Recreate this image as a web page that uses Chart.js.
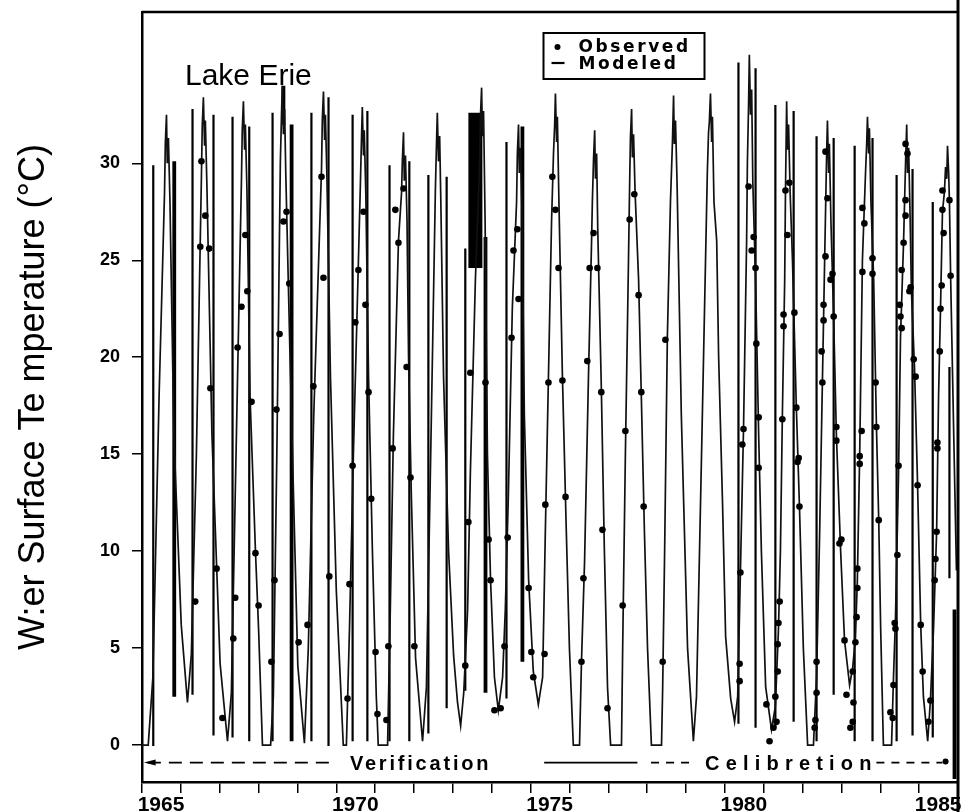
<!DOCTYPE html>
<html>
<head>
<meta charset="utf-8">
<title>Lake Erie</title>
<script src="https://cdn.jsdelivr.net/npm/chart.js@4.4.1/dist/chart.umd.min.js"></script>
<style>
  html, body { margin: 0; padding: 0; background: #fff; }
  canvas { display: block; }
</style>
</head>
<body>
<canvas id="myChart" width="972" height="812"></canvas>
<script>
// modeled surface temperature (decimal year, deg C)
const modelYear = [
  1965.00, 1965.16, 1965.28, 1965.44, 1965.58, 1965.60, 1965.63, 1965.65, 1965.68, 1965.72, 1965.82, 1966.01,
  1966.17, 1966.27, 1966.40, 1966.53, 1966.55, 1966.58, 1966.61, 1966.63, 1966.67, 1966.80, 1967.01,
  1967.20, 1967.30, 1967.42, 1967.56, 1967.58, 1967.61, 1967.64, 1967.66, 1967.70, 1967.78, 1967.92, 1968.00, 1968.10,
  1968.31, 1968.38, 1968.47, 1968.56, 1968.59, 1968.61, 1968.64, 1968.67, 1968.70, 1968.81, 1969.01,
  1969.18, 1969.28, 1969.42, 1969.62, 1969.64, 1969.67, 1969.70, 1969.72, 1969.76, 1969.85, 1970.00, 1970.18,
  1970.26, 1970.34, 1970.44, 1970.57, 1970.62, 1970.65, 1970.67, 1970.70, 1970.72, 1970.76, 1970.83, 1970.93, 1971.03, 1971.08,
  1971.32, 1971.39, 1971.47, 1971.60, 1971.68, 1971.70, 1971.73, 1971.75, 1971.78, 1971.82, 1971.86, 1971.93, 1972.04,
  1972.22, 1972.32, 1972.43, 1972.55, 1972.58, 1972.60, 1972.63, 1972.66, 1972.69, 1972.76, 1972.89, 1973.02, 1973.12,
  1973.20, 1973.28, 1973.38, 1973.45, 1973.58, 1973.69, 1973.71, 1973.74, 1973.76, 1973.79, 1973.83, 1973.89, 1973.97, 1974.07,
  1974.17, 1974.28, 1974.35, 1974.43, 1974.53, 1974.64, 1974.66, 1974.69, 1974.71, 1974.74, 1974.78, 1974.84, 1974.95, 1975.07,
  1975.20, 1975.31, 1975.38, 1975.46, 1975.54, 1975.59, 1975.62, 1975.64, 1975.67, 1975.69, 1975.73, 1975.82, 1975.92, 1976.00, 1976.10,
  1976.26, 1976.31, 1976.39, 1976.49, 1976.57, 1976.59, 1976.62, 1976.65, 1976.67, 1976.70, 1976.73, 1976.82, 1976.90, 1976.98, 1977.06,
  1977.34, 1977.37, 1977.44, 1977.52, 1977.55, 1977.57, 1977.60, 1977.62, 1977.65, 1977.69, 1977.78, 1977.85, 1977.93, 1978.01, 1978.11,
  1978.37, 1978.40, 1978.45, 1978.52, 1978.60, 1978.65, 1978.68, 1978.70, 1978.73, 1978.77, 1978.88, 1979.04,
  1979.19, 1979.27, 1979.40, 1979.55, 1979.58, 1979.60, 1979.63, 1979.66, 1979.68, 1979.72, 1979.79, 1979.84, 1979.94, 1980.02, 1980.15,
  1980.25, 1980.33, 1980.40, 1980.48, 1980.56, 1980.58, 1980.61, 1980.63, 1980.66, 1980.69, 1980.72, 1980.79, 1980.87, 1980.94, 1981.05,
  1981.20, 1981.30, 1981.38, 1981.43, 1981.48, 1981.54, 1981.56, 1981.59, 1981.61, 1981.64, 1981.68, 1981.74, 1981.84, 1981.92, 1982.02, 1982.13,
  1982.28, 1982.36, 1982.44, 1982.51, 1982.57, 1982.62, 1982.64, 1982.67, 1982.69, 1982.73, 1982.80, 1982.87, 1982.98, 1983.08,
  1983.21, 1983.29, 1983.36, 1983.41, 1983.47, 1983.54, 1983.62, 1983.65, 1983.67, 1983.70, 1983.72, 1983.76, 1983.83, 1983.90, 1983.96, 1984.01, 1984.08,
  1984.29, 1984.34, 1984.39, 1984.47, 1984.52, 1984.60, 1984.65, 1984.68, 1984.70, 1984.73, 1984.77, 1984.80, 1984.88, 1984.96, 1985.04, 1985.11,
  1985.22, 1985.29, 1985.37, 1985.45, 1985.50, 1985.55, 1985.60, 1985.65, 1985.68, 1985.71, 1985.73, 1985.76, 1985.78, 1985.81, 1985.89, 1985.96
];
const modelTemp = [
  0, 0, 3.5, 18, 28.5, 31, 32.5, 30, 31.3, 28, 16, 6.2,
  2.2, 4.7, 15, 29.4, 31.9, 33.4, 30.9, 32.2, 28.9, 16, 4.2,
  0.2, 2.7, 15, 29.2, 31.7, 33.2, 30.7, 32.0, 28.7, 18, 10, 6, 0,
  0, 2.5, 15, 30, 32.5, 34, 31.5, 32.8, 29.5, 20, 4.1,
  0.1, 5, 17, 29.7, 32.2, 33.7, 31.2, 32.5, 29.2, 19, 8, 0,
  0, 6, 15, 25, 28.9, 31.4, 32.9, 30.4, 31.7, 28.4, 19, 10, 2.5, 0,
  0, 7, 16, 26, 28.5, 30.1, 31.6, 29.1, 30.4, 27.1, 20, 13, 4.5,
  0.2, 3, 15, 28.6, 31.1, 32.6, 30.1, 31.4, 28.1, 19, 10, 4.6, 2.2,
  1.0, 2.7, 7, 14, 24, 30, 32.4, 33.9, 31.4, 32.7, 27, 15, 8.5, 3.5,
  1.8, 3.5, 7, 13, 22.5, 28, 30.5, 32.0, 29.5, 30.8, 27.5, 17, 8.5, 3.8,
  2.1, 3.5, 11, 19, 27, 30.5, 32, 33.6, 31.1, 32.4, 28, 19, 11, 5, 0,
  0, 4.3, 9.5, 19, 26, 28, 30.2, 31.7, 29.2, 30.5, 26.5, 18.5, 10, 3, 0,
  0, 5, 15, 25, 29, 31.3, 32.8, 30.3, 31.5, 28.5, 24, 18, 11, 5, 0,
  0, 3, 10, 21, 28, 31, 33.5, 31, 32.2, 29, 17, 5,
  0.2, 2.5, 15, 29.6, 31.6, 32.1, 33.6, 31.1, 32.4, 28, 26, 20, 12.5, 5.6, 2.4,
  1.2, 2.5, 8.9, 16.3, 26, 30, 33, 35.6, 32.5, 33.8, 29, 24, 16, 10, 3,
  0.8, 2, 6, 10, 17, 24, 28.5, 33.2, 30.7, 32, 28.5, 25, 17.4, 12.3, 5, 0,
  0, 3.5, 11, 18.7, 25.2, 30.6, 32.2, 29.5, 31, 27, 22, 16, 10, 5.4,
  3.1, 4, 5.5, 8.5, 15, 25, 29.5, 31, 32.4, 30.5, 31.8, 28, 24, 16.5, 11.6, 6, 0,
  0, 3.5, 6.5, 14, 21, 26, 30, 32.0, 29.5, 30.8, 27, 23.5, 19.5, 13.4, 6.2, 2.5,
  0.2, 2.3, 6, 11, 18, 22.5, 27.5, 28.5, 29.8, 29.2, 30.9, 29.5, 28, 24.2, 16, 9
];

// observed surface temperature
const obsYear = [
  1966.37, 1966.50, 1966.53, 1966.63, 1966.73, 1966.76, 1966.92, 1967.07,
  1967.35, 1967.40, 1967.46, 1967.56, 1967.66, 1967.71, 1967.82, 1967.92, 1968.00,
  1968.33, 1968.41, 1968.46, 1968.54, 1968.64, 1968.72, 1968.79, 1969.03,
  1969.26, 1969.41, 1969.62, 1969.67, 1969.82,
  1970.29, 1970.34, 1970.42, 1970.49, 1970.57, 1970.70, 1970.75, 1970.83, 1970.90, 1971.01, 1971.06,
  1971.29, 1971.34, 1971.45, 1971.52, 1971.60, 1971.73, 1971.81, 1971.91, 1972.01,
  1973.32, 1973.40, 1973.45, 1973.84, 1973.92, 1973.97, 1974.07, 1974.23,
  1974.33, 1974.41, 1974.51, 1974.56, 1974.66, 1974.69, 1974.95, 1975.02, 1975.07,
  1975.36, 1975.38, 1975.46, 1975.56, 1975.64, 1975.72, 1975.82, 1975.90,
  1976.31, 1976.36, 1976.46, 1976.52, 1976.62, 1976.72, 1976.82, 1976.85, 1976.98,
  1977.37, 1977.44, 1977.55, 1977.67, 1977.78, 1977.85, 1977.91,
  1978.40, 1978.47,
  1980.38, 1980.38, 1980.40, 1980.45, 1980.48, 1980.61, 1980.69, 1980.74, 1980.79, 1980.81, 1980.87, 1980.87, 1981.07, 1981.15,
  1981.25, 1981.33, 1981.30, 1981.36, 1981.36, 1981.38, 1981.41, 1981.48, 1981.51, 1981.51, 1981.56, 1981.61, 1981.66,
  1981.79, 1981.84, 1981.87, 1981.90, 1981.92,
  1982.31, 1982.33, 1982.36, 1982.36, 1982.49, 1982.51, 1982.54, 1982.54, 1982.59, 1982.59, 1982.64, 1982.72, 1982.77, 1982.80,
  1982.87, 1982.87, 1982.95, 1983.00, 1983.08,
  1983.13, 1983.23, 1983.29, 1983.31, 1983.29, 1983.36, 1983.39, 1983.41, 1983.41, 1983.47, 1983.47, 1983.52, 1983.54, 1983.54, 1983.59,
  1983.80, 1983.80, 1983.88, 1983.90, 1983.96,
  1984.26, 1984.32, 1984.34, 1984.37, 1984.39, 1984.44, 1984.47, 1984.50, 1984.52, 1984.55, 1984.55, 1984.60, 1984.65, 1984.65, 1984.65, 1984.70,
  1984.75, 1984.78, 1984.86, 1984.91, 1984.96, 1985.04, 1985.09,
  1985.24, 1985.29, 1985.40, 1985.42, 1985.45, 1985.47, 1985.47, 1985.53, 1985.55, 1985.58, 1985.60, 1985.60, 1985.63, 1985.78, 1985.81
];
const obsTemp = [
  7.4, 25.7, 30.1, 27.3, 25.6, 18.4, 9.1, 1.4,
  5.5, 7.6, 20.5, 22.6, 26.3, 23.4, 17.7, 9.9, 7.2,
  4.3, 8.5, 17.3, 21.2, 27.0, 27.5, 23.8, 5.3,
  6.2, 18.5, 29.3, 24.1, 8.7,
  2.4, 8.3, 14.4, 21.8, 24.5, 27.5, 22.7, 18.2, 12.7, 4.8, 1.6,
  1.3, 5.1, 15.3, 27.6, 25.9, 28.7, 19.5, 13.8, 5.1,
  4.1, 11.5, 19.2, 18.7, 10.6, 8.5, 1.8, 1.9,
  5.1, 10.7, 21.0, 25.5, 26.6, 23.0, 8.1, 4.8, 3.5,
  4.7, 12.4, 18.7, 29.3, 27.6, 24.6, 18.8, 12.8,
  4.3, 8.6, 19.8, 24.6, 26.4, 24.6, 18.2, 11.1, 1.9,
  7.2, 16.2, 27.1, 28.4, 23.2, 18.2, 12.3,
  4.3, 20.9,
  4.2, 3.3, 8.9, 15.5, 16.3, 28.8, 25.5, 26.2, 24.6, 20.7, 16.9, 14.3, 2.1, 0.2,
  0.9, 1.2, 2.5, 3.8, 5.2, 6.3, 7.4, 16.8, 22.2, 21.6, 28.6, 26.3, 29.0,
  22.3, 17.4, 14.6, 14.8, 12.3,
  0.9, 1.3, 2.7, 4.3, 20.3, 18.7, 22.7, 21.9, 30.6, 25.2, 28.2, 24.0, 24.3, 22.1,
  16.4, 15.7, 10.4, 10.6, 5.4,
  2.6, 0.9, 1.2, 2.2, 3.8, 5.3, 6.6, 8.1, 9.1, 14.9, 14.5, 16.2, 27.7, 24.4, 26.9,
  25.1, 24.3, 18.7, 16.4, 11.6,
  1.7, 1.4, 3.1, 6.3, 6.0, 9.8, 14.4, 22.7, 22.1, 21.5, 24.5, 25.9, 27.3, 28.1, 31.0, 30.5,
  23.4, 23.6, 19.9, 19.0, 13.4, 6.2, 3.8,
  1.2, 2.3, 8.5, 9.6, 11.0, 15.6, 15.3, 20.3, 22.5, 23.7, 27.6, 28.6, 26.4, 28.1, 24.2
];

// vertical streaks through the plot (year, top, bottom in deg C)
const streakYear = [
  1965.29, 1966.30, 1966.84, 1967.33, 1967.76, 1968.36, 1969.36, 1969.80, 1970.42, 1970.80, 1971.37, 1971.88,
  1972.37, 1972.84, 1973.32, 1974.38, 1980.35, 1980.79, 1981.30, 1981.77, 1982.36, 1982.80, 1983.34, 1983.80,
  1984.42, 1984.83, 1985.35, 1985.78
];
const streakTop = [
  29.9, 32.8, 32.5, 32.4, 31.9, 32.6, 32.6, 33.4, 32.5, 32.7, 29.9, 30.1,
  29.4, 29.3, 25.6, 31.1, 35.2, 34.9, 33.0, 32.7, 31.4, 31.3, 30.9, 31.3,
  29.4, 29.7, 28.0, 19.5
];
const streakBottom = [
  -0.05, 2.6, 0.5, 0.4, 0.2, 0.2, 0.2, -0.05, 0.2, 0.2, 0.2, 0.2,
  0.6, 1.9, 2.8, 2.4, 1.1, 0.9, 0.9, 1.2, 0.2, 2.6, 0.2, 0.2,
  0.2, 0.5, 0.4, 8.6
];
const heavyStreakYear = [1965.83, 1968.64, 1968.85, 1973.84, 1974.79, 1985.91];
const heavyStreakTop = [30.1, 34.0, 32.0, 26.2, 31.9, 7.0];
const heavyStreakBottom = [2.5, 32.0, 0.2, 2.7, 4.3, -1.75];
const blockYear = [1973.58];
const blockTop = [32.6];
const blockBottom = [24.6];

const yearTicks = [];
for (let yr = 1965; yr <= 1985; yr++) yearTicks.push(yr);
const tempTicks = [0, 5, 10, 15, 20, 25, 30];

const FONT = '"Liberation Sans", Arial, Helvetica, sans-serif';

function toPoints(xs, ys) {
  return xs.map((x, i) => ({x: x, y: ys[i]}));
}

function segments(xs, tops, bottoms) {
  const pts = [];
  xs.forEach((x, i) => {
    pts.push({x: x, y: tops[i]}, {x: x, y: bottoms[i]}, {x: x, y: null});
  });
  return pts;
}

function streakSet(data, width) {
  return {
    type: 'line',
    data: data,
    borderColor: '#000',
    borderWidth: width,
    borderCapStyle: 'butt',
    pointRadius: 0,
    spanGaps: false,
    order: 3
  };
}

// frame, title, legend box and the verification / calibration bar
const paperNotes = {
  id: 'paperNotes',
  afterDatasetsDraw(chart) {
    const {ctx, chartArea: a, scales} = chart;
    const px = v => scales.x.getPixelForValue(v);
    const barY = scales.y.getPixelForValue(-0.9);

    ctx.save();
    ctx.strokeStyle = '#000';
    ctx.fillStyle = '#000';

    ctx.lineWidth = 2.5;
    ctx.beginPath();
    ctx.moveTo(a.left, a.top);
    ctx.lineTo(a.right, a.top);
    ctx.stroke();
    ctx.lineWidth = 3;
    ctx.beginPath();
    ctx.moveTo(a.right, 0);
    ctx.lineTo(a.right, chart.height);
    ctx.stroke();

    ctx.font = '30px ' + FONT;
    ctx.textBaseline = 'alphabetic';
    ctx.fillText('Lake Erie', a.left + 43, a.top + 73);

    // legend
    const bx = a.left + 401.5, by = a.top + 21;
    ctx.lineWidth = 2;
    ctx.strokeRect(bx, by, 161, 46);
    ctx.beginPath();
    ctx.arc(bx + 14, by + 14, 3, 0, Math.PI * 2);
    ctx.fill();
    ctx.lineWidth = 2.2;
    ctx.beginPath();
    ctx.moveTo(bx + 8, by + 30);
    ctx.lineTo(bx + 21, by + 30);
    ctx.stroke();
    ctx.font = 'bold 17px "DejaVu Sans", ' + FONT;
    ctx.letterSpacing = '2.6px';
    ctx.fillText('Observed', bx + 35, by + 19);
    ctx.fillText('Modeled', bx + 35, by + 36);

    // period bar below zero
    ctx.lineWidth = 1.6;
    ctx.setLineDash([13, 8]);
    ctx.beginPath();
    ctx.moveTo(px(1965.15), barY);
    ctx.lineTo(px(1969.9), barY);
    ctx.stroke();
    ctx.setLineDash([]);
    ctx.beginPath();
    ctx.moveTo(px(1965.05), barY);
    ctx.lineTo(px(1965.35), barY - 3);
    ctx.lineTo(px(1965.35), barY + 3);
    ctx.closePath();
    ctx.fill();
    ctx.beginPath();
    ctx.moveTo(px(1975.35), barY);
    ctx.lineTo(px(1977.75), barY);
    ctx.stroke();
    ctx.setLineDash([8, 7]);
    ctx.beginPath();
    ctx.moveTo(px(1978.1), barY);
    ctx.lineTo(px(1979.2), barY);
    ctx.moveTo(px(1983.9), barY);
    ctx.lineTo(px(1985.6), barY);
    ctx.stroke();
    ctx.setLineDash([]);
    ctx.beginPath();
    ctx.arc(px(1985.68), barY - 1, 3, 0, Math.PI * 2);
    ctx.fill();

    ctx.font = 'bold 20px ' + FONT;
    ctx.textBaseline = 'middle';
    ctx.letterSpacing = '2.8px';
    ctx.fillText('Verification', px(1970.35), barY + 2);
    ctx.letterSpacing = '6.2px';
    ctx.fillText('Celibretion', px(1981.6) - 82, barY + 2);
    ctx.restore();
  }
};

const data = {
  datasets: [
    {
      type: 'line',
      label: 'Modeled',
      data: toPoints(modelYear, modelTemp),
      borderColor: '#111',
      borderWidth: 1.7,
      pointRadius: 0,
      tension: 0,
      order: 2
    },
    {
      type: 'scatter',
      label: 'Observed',
      data: toPoints(obsYear, obsTemp),
      pointRadius: 3.3,
      pointBackgroundColor: '#000',
      pointBorderWidth: 0,
      order: 1
    },
    streakSet(segments(streakYear, streakTop, streakBottom), 2.2),
    streakSet(segments(heavyStreakYear, heavyStreakTop, heavyStreakBottom), 3.8),
    streakSet(segments(blockYear, blockTop, blockBottom), 14)
  ]
};

const config = {
  data: data,
  options: {
    responsive: false,
    animation: false,
    devicePixelRatio: 1,
    layout: { padding: { left: 0, right: 14, top: 12, bottom: 0 } },
    plugins: {
      legend: { display: false },
      tooltip: { enabled: false }
    },
    scales: {
      x: {
        type: 'linear',
        min: 1965,
        max: 1986,
        afterBuildTicks: scale => { scale.ticks = yearTicks.map(v => ({value: v})); },
        afterFit: scale => {
          scale.height = 30;
          scale.paddingLeft = 0;
          scale.paddingRight = 0;
        },
        border: { display: true, color: '#000', width: 2.5 },
        grid: { drawOnChartArea: false, drawTicks: true, tickLength: 11, color: '#000', lineWidth: 1.5 },
        ticks: {
          autoSkip: false,
          maxRotation: 0,
          padding: 0,
          labelOffset: 19,
          color: '#000',
          font: { family: FONT, size: 21, weight: 'bold' },
          callback: v => (v % 5 === 0 ? String(v) : '')
        }
      },
      y: {
        min: -1.9,
        max: 37.8,
        afterBuildTicks: scale => { scale.ticks = tempTicks.map(v => ({value: v})); },
        afterFit: scale => {
          scale.width = 142;
          scale.paddingTop = 0;
          scale.paddingBottom = 0;
        },
        border: { display: true, color: '#000', width: 2.5 },
        grid: { drawOnChartArea: false, drawTicks: true, tickLength: 10, color: '#000', lineWidth: 1.5 },
        ticks: {
          padding: 12,
          color: '#000',
          font: { family: FONT, size: 18, weight: 'bold' }
        },
        title: {
          display: true,
          text: 'W:er Surface Te mperature (°C)',
          color: '#000',
          padding: { top: 12, bottom: 0 },
          font: { family: FONT, size: 36 }
        }
      }
    }
  },
  plugins: [paperNotes]
};

const myChart = new Chart(document.getElementById('myChart'), config);
</script>
</body>
</html>
